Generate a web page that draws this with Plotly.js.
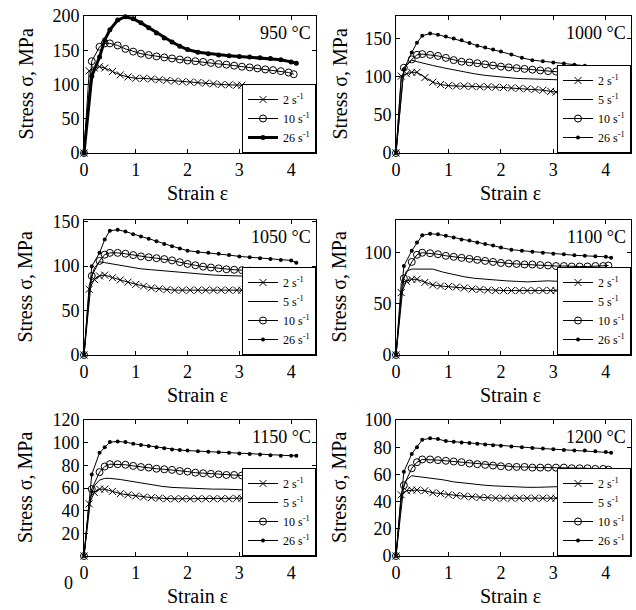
<!DOCTYPE html>
<html><head><meta charset="utf-8">
<script src="https://cdn.plot.ly/plotly-3.0.1.min.js"></script>
<style>html,body{margin:0;padding:0;background:#fff}#chart{width:636px;height:610px}</style>
</head><body><div id="chart"></div>
<script>
// ---- data (strain values and stresses) ----
const eps2  = [0,0.1,0.2,0.3,0.4,0.55,0.7,0.85,1.0,1.15,1.3,1.45,1.6,1.75,1.9,2.05,2.2,2.35,2.5,2.65,2.8,2.95,3.05];
const eps5  = [0,0.1,0.2,0.3,0.4,0.5,0.7,0.9,1.1,1.3,1.5,1.7,1.9,2.1,2.3,2.5,2.7,2.9,3.1,3.3,3.5,3.7,3.9,4.05];
const eps10 = [0,0.15,0.3,0.4,0.5,0.65,0.8,0.95,1.1,1.25,1.4,1.55,1.7,1.85,2.0,2.15,2.3,2.45,2.6,2.75,2.9,3.05,3.2,3.35,3.5,3.65,3.8,3.95,4.05];
const eps26 = [0,0.15,0.3,0.4,0.5,0.65,0.8,0.95,1.1,1.25,1.4,1.55,1.7,1.85,2.0,2.2,2.4,2.6,2.8,3.0,3.2,3.4,3.6,3.8,4.0,4.1];

const temps = ['950 °C','1000 °C','1050 °C','1100 °C','1150 °C','1200 °C'];
const rateNames = ['2 s<sup>-1</sup>','5 s<sup>-1</sup>','10 s<sup>-1</sup>','26 s<sup>-1</sup>'];
const xTicks = [0,1,2,3,4];

// 950 °C
const s950_2  = [0,120,124,126,124,119,114,111,109,109,108,107,106,105,104,103.5,103,102,101,100,99.5,99,99];
const s950_10 = [0,134,155,160,160,157,152,148,145,143,141,139.5,138,136.5,135,134,133,131.5,130,129,127.5,126,125,123.5,122,121,119.5,117.5,115];
const s950_26 = [0,112,140,165,180,194,199,196,190,183,175,168,162,156,151,147,145,143,142,141,140,139,138,136,133,131];
// 1000 °C
const s1000_2  = [0,101,104,106,106,99,93,90,88.5,88,88,87.5,87,87,86.5,86,85.5,85,84.5,83.5,82.5,81,80];
const s1000_5  = [0,98,115,122,120,118,115,112,109,106,104,102,100.5,99,98,97.5,97,96.5,96,95.5,95,94.5,94,94];
const s1000_10 = [0,112,123,129,130,129,127.5,125,122,120,119,118,116.5,115,113.5,112.5,111.5,110.5,109.5,108.5,107.5,107,106,105,104,103.5,102.5,101.5,100];
const s1000_26 = [0,110,132,145,154,157,155.5,153,150.5,148,144.5,141,138.5,136,133.5,129.5,125,122,120.5,119,117.5,116,114.5,113,111.5,111];
// 1050 °C
const s1050_2  = [0,74,85,89,90,87,84.5,82,79.5,77.5,75.5,74.5,73.5,73,73,73,73,73,73,73,73,73,73];
const s1050_5  = [0,78,98,105,104,103,101,99,97,96,95,94,93,91.5,90.5,90,89.5,89,88.5,88.5,88.5,88.5,88.5,88.5];
const s1050_10 = [0,89,106,113,115,115,114,112.5,111,110,109,108,106.5,104.5,102.5,101,99.5,98.5,97.5,96.5,96,95.5,95,94.5,94.5,94,94,94,94];
const s1050_26 = [0,100,115,130,140,141,139,136,133.5,131,128,125,122.5,120,117.5,116,115,114,112.5,111,110,109,108,107,106.5,104];
// 1100 °C
const s1100_2  = [0,61,72,74,74,71,68.5,67.5,67,66.5,65.5,64.5,64,63.5,63,63,63,63,63,63,63,63,63];
const s1100_5  = [0,70,82,84,84,84,84,81,78.5,76.5,75,74,73,72.5,72,71.5,72,72.5,72,72,72,72,73,72.5];
const s1100_10 = [0,75,91,98,100,99.5,98.5,97,96,95,94,93,92,91,90,89.5,89,88.5,88.5,88,87.5,87,87,86.5,86.5,86.5,87,87,87.5];
const s1100_26 = [0,87,102,110,117,118.5,118,116.5,115,113,112,110,108.5,107,105,103,102,101,100,99,98.5,97.5,97,96.5,96,95];
// 1150 °C
const s1150_2  = [0,46,56,59,59,57,55,54,53,52,51.5,51,50.5,50.5,50.5,50.5,50.5,50.5,50.5,50.5,50.5,51,51];
const s1150_5  = [0,48,62,67,68.5,68.5,67.5,66,64,62.5,61.5,60.5,60,59.5,59.5,59,59,58.5,58.5,58,58,58,58,57];
const s1150_10 = [0,59,74,79,81,81,80.5,79.5,78.5,78,77,76.5,76,75,74.5,73.5,73,72.5,72,71.5,71.5,71,71,70.5,70.5,70.5,70,69.5,69];
const s1150_26 = [0,72,91,96,100.5,101,100.5,99,98,97,96,95,94,93.5,93,92.5,92,91.5,91,90.5,90,89.5,89,88.5,88.5,88.5];
// 1200 °C
const s1200_2  = [0,45,48,48.5,48.5,48,46.5,46,45,44.5,44,43.5,43,43,42.5,42.5,42.5,42.5,42.5,42.5,42.5,42.5,42.5];
const s1200_5  = [0,46,56,59,58.5,58,57.5,56,54.5,53.5,53,52,51.5,51,51,50.5,50.5,51,51,51,51,51,51,51];
const s1200_10 = [0,52,64.5,69,71,71,70.5,70,69.5,69,68,67.5,67,66.5,66,65.5,65.5,65.5,65,65,65,65,65,64.5,64.5,64.5,64,64,63.5];
const s1200_26 = [0,62,75,80,85.5,86.5,86,84.5,84,83.5,83,82.5,82,81.5,81,80.5,80,79.5,79,78.5,78,77.5,77.5,77,76.5,76];

const yMaxes = [200,180,152,132,120,100];
const yTickSets = [[0,50,100,150,200],[0,50,100,150],[0,50,100,150],[0,50,100],[20,40,60,80,100,120],[0,20,40,60,80,100]];
const panelSeries = [
  [s950_2, null, s950_10, s950_26],
  [s1000_2, s1000_5, s1000_10, s1000_26],
  [s1050_2, s1050_5, s1050_10, s1050_26],
  [s1100_2, s1100_5, s1100_10, s1100_26],
  [s1150_2, s1150_5, s1150_10, s1150_26],
  [s1200_2, s1200_5, s1200_10, s1200_26]
];
const epsList = [eps2, eps5, eps10, eps26];

// ---- layout geometry ----
const W = 636, H = 610;
const FONT = 'Liberation Serif, Times New Roman, serif';
const colDom = [[84/W, 316/W], [396/W, 631/W]];
const rowDom = [[1-153/H, 1-16/H], [1-355/H, 1-220/H], [1-556/H, 1-420/H]];

const markerStyles = [
  {mode:'lines+markers', marker:{symbol:'x-thin-open', size:7, color:'#000', line:{width:1, color:'#000'}}},
  {mode:'lines', marker:{}},
  {mode:'lines+markers', marker:{symbol:'circle-open', size:7, color:'#000', line:{width:1, color:'#000'}}},
  {mode:'lines+markers', marker:{symbol:'circle', size:4, color:'#000'}}
];

const traces = [];
const layout = {
  width: W, height: H, margin:{l:0,r:0,t:0,b:0},
  paper_bgcolor:'#fff', plot_bgcolor:'#fff',
  font:{family:FONT, color:'#000', size:18},
  annotations: [], showlegend: true
};

for (let p = 0; p < 6; p++) {
  const col = p % 2, row = Math.floor(p / 2);
  const sfx = p === 0 ? '' : String(p + 1);
  const legKey = p === 0 ? 'legend' : 'legend' + (p + 1);
  panelSeries[p].forEach((ys, k) => {
    if (!ys) return;
    const st = markerStyles[k];
    const thick = (p === 0 && k === 3);
    traces.push({
      type:'scatter', x: epsList[k], y: ys, name: rateNames[k],
      xaxis:'x' + sfx, yaxis:'y' + sfx, legend: legKey,
      mode: st.mode, cliponaxis:false,
      line:{color:'#000', width: thick ? 3 : 1},
      marker: Object.assign({}, st.marker, thick ? {size:5} : {})
    });
  });
  const axBase = {
    showline:true, linecolor:'#000', linewidth:1, mirror:'ticks',
    ticks:'inside', ticklen:4, tickcolor:'#000', showgrid:false, zeroline:false,
    tickfont:{family:FONT, size:18, color:'#000'}, fixedrange:true
  };
  layout['xaxis' + sfx] = Object.assign({}, axBase, {
    domain: colDom[col], range:[0, 4.48], tickvals: xTicks, anchor:'y' + sfx
  });
  layout['yaxis' + sfx] = Object.assign({}, axBase, {
    domain: rowDom[row], range:[0, yMaxes[p]], tickvals: yTickSets[p], anchor:'x' + sfx
  });
  layout[legKey] = {
    x: colDom[col][1], xanchor:'right', y: rowDom[row][0], yanchor:'bottom',
    xref:'paper', yref:'paper', bgcolor:'#fff', bordercolor:'#000', borderwidth:1,
    font:{family:FONT, size:12, color:'#000'}, itemwidth:30, traceorder:'normal',
    tracegroupgap:0
  };
  // temperature label
  layout.annotations.push({
    text: temps[p], xref:'paper', yref:'paper', x: colDom[col][1] - 3/W, xanchor:'right',
    y: rowDom[row][1] - 5/H, yanchor:'top', showarrow:false,
    font:{family:FONT, size:18, color:'#000'}
  });
  // y title
  layout.annotations.push({
    text:'Stress σ, MPa', xref:'paper', yref:'paper',
    x: (col === 0 ? 25 : 339) / W, y: (rowDom[row][0] + rowDom[row][1]) / 2,
    xanchor:'center', yanchor:'middle', textangle:-90, showarrow:false,
    font:{family:FONT, size:20, color:'#000'}
  });
  // x title
  layout.annotations.push({
    text:'Strain ε', xref:'paper', yref:'paper',
    x: (col === 0 ? 197 : 510) / W, y: rowDom[row][0] - 40/H,
    xanchor:'center', yanchor:'middle', showarrow:false,
    font:{family:FONT, size:20, color:'#000'}
  });
}
// stray zero label of the 1150 °C panel
layout.annotations.push({
  text:'0', xref:'paper', yref:'paper', x: 68/W, y: 1 - 583/H,
  xanchor:'center', yanchor:'middle', showarrow:false,
  font:{family:FONT, size:18, color:'#000'}
});

Plotly.newPlot('chart', traces, layout, {displayModeBar:false, staticPlot:true});
</script></body></html>
